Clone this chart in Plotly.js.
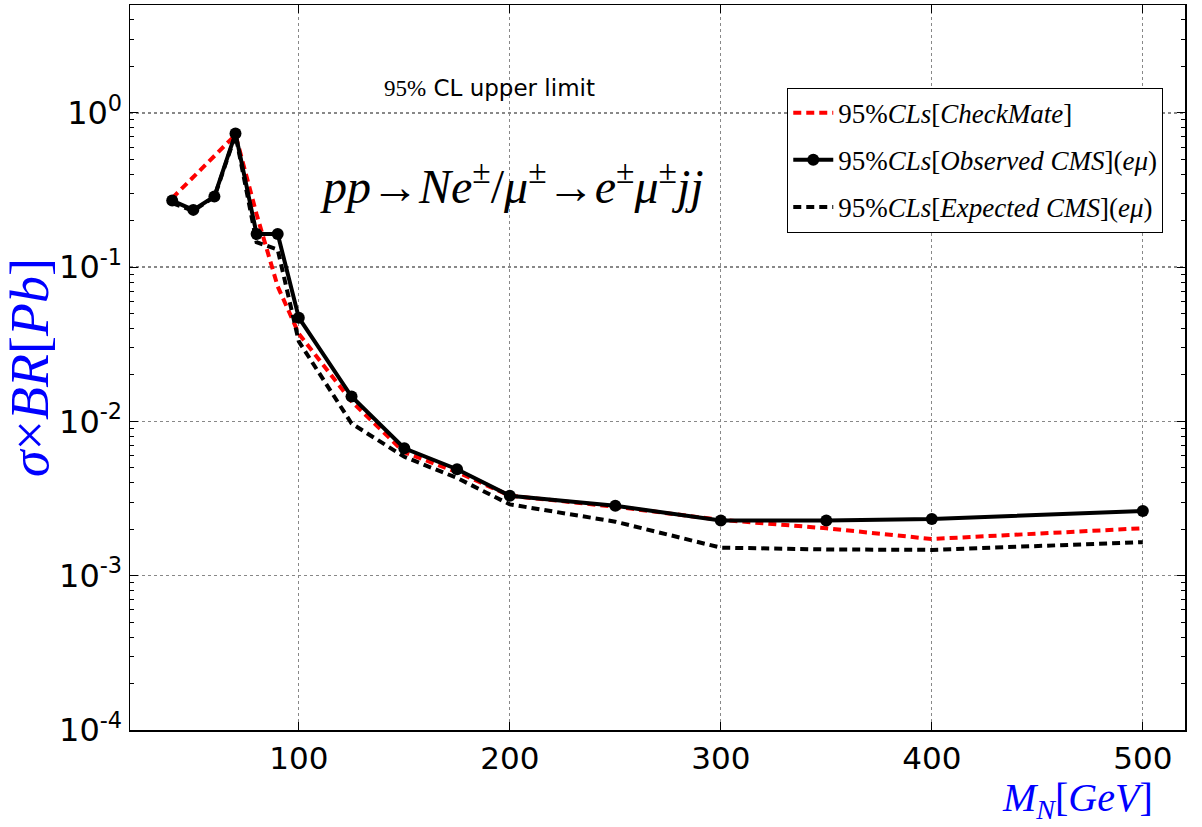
<!DOCTYPE html>
<html>
<head>
<meta charset="utf-8">
<script src="https://cdn.plot.ly/plotly-3.0.1.min.js"></script>
<style>html,body{margin:0;padding:0;background:#fff;}#chart{width:1202px;height:827px;}</style>
</head>
<body>
<div id="chart"></div>
<script>
// Mass points (GeV)
const massObs = [40, 50, 60, 70, 80, 90, 100, 125, 150, 175, 200, 250, 300, 350, 400, 500];
const observedCMS = [0.27, 0.235, 0.287, 0.735, 0.164, 0.164, 0.047, 0.0145, 0.0067, 0.0049, 0.0033, 0.00284, 0.00228, 0.00228, 0.00233, 0.00263];
const expectedCMS = [0.26, 0.232, 0.285, 0.72, 0.145, 0.13, 0.033, 0.0097, 0.0059, 0.0043, 0.0029, 0.00224, 0.00152, 0.00148, 0.00147, 0.00165];
const massCM = [40, 70, 80, 90, 100, 125, 150, 175, 200, 250, 300, 350, 400, 500];
const checkMate = [0.28, 0.72, 0.22, 0.075, 0.037, 0.0135, 0.0063, 0.0047, 0.0033, 0.0028, 0.0023, 0.00203, 0.00173, 0.00203];
const xTicks = [100, 200, 300, 400, 500];
const yTickVals = [1, 0.1, 0.01, 0.001, 0.0001];
const yTickText = ['10<sup>0</sup>', '10<sup>-1</sup>', '10<sup>-2</sup>', '10<sup>-3</sup>', '10<sup>-4</sup>'];

const serif = 'Liberation Serif, DejaVu Serif, serif';
const sans = 'DejaVu Sans, sans-serif';

const traces = [
  {x: massCM, y: checkMate, mode: 'lines', name: '95%<i>CLs</i>[<i>CheckMate</i>]', legendgroup: 'a',
   line: {color: '#ff0000', width: 4, dash: '8px,5px'}, legendrank: 1},
  {x: massObs, y: expectedCMS, mode: 'lines', name: '95%<i>CLs</i>[<i>Expected CMS</i>](<i>eμ</i>)', legendgroup: 'c',
   line: {color: '#000000', width: 4, dash: '8px,5px'}, legendrank: 3},
  {x: massObs, y: observedCMS, mode: 'lines+markers', name: '95%<i>CLs</i>[<i>Observed CMS</i>](<i>eμ</i>)', legendgroup: 'b',
   line: {color: '#000000', width: 4}, marker: {color: '#000000', size: 12}, legendrank: 2}
];

const yRange = [-4, 0.699];

const layout = {
  width: 1202, height: 827,
  margin: {l: 130, r: 17, t: 5, b: 97},
  paper_bgcolor: '#ffffff', plot_bgcolor: '#ffffff',
  showlegend: true,
  legend: {x: 0.623, y: 0.886, xanchor: 'left', yanchor: 'top',
    bordercolor: '#000000', borderwidth: 1, bgcolor: '#ffffff',
    font: {family: serif, size: 27, color: '#000'}, tracegroupgap: 9,
    itemwidth: 40},
  xaxis: {
    range: [20, 520], tickvals: xTicks, ticks: 'inside', ticklen: 8, tickwidth: 1,
    tickcolor: '#000', showline: true, linecolor: '#000', linewidth: 1.5, mirror: 'ticks',
    showgrid: true, gridcolor: '#888', griddash: 'dot', gridwidth: 1.3, zeroline: false,
    tickfont: {family: sans, size: 31, color: '#000'}
  },
  yaxis: {
    type: 'log', range: yRange, tickvals: yTickVals, ticktext: yTickText,
    ticks: 'inside', ticklen: 8, tickwidth: 1, tickcolor: '#000',
    showline: true, linecolor: '#000', linewidth: 1.5, mirror: 'ticks',
    showgrid: true, gridcolor: '#888', griddash: 'dot', gridwidth: 1.3, zeroline: false,
    tickfont: {family: sans, size: 32, color: '#000'},
    minor: {tickmode: 'linear', dtick: 'D1', ticks: 'inside', ticklen: 4, tickcolor: '#000', showgrid: false},
    title: {text: '<i>σ</i>×<i>BR</i>[<i>Pb</i>]', font: {family: serif, size: 54, color: '#0000ff'}, standoff: 8}
  },
  annotations: [
    {xref: 'paper', yref: 'paper', x: 0.341, y: 0.886, xanchor: 'center', yanchor: 'middle', showarrow: false,
     text: '<span style="font-family:Liberation Serif">95%</span> CL upper limit', font: {family: sans, size: 23, color: '#000'}},
    {xref: 'paper', yref: 'paper', x: 0.362, y: 0.754, xanchor: 'center', yanchor: 'middle', showarrow: false,
     text: '<i>pp</i>→<i>Ne</i><sup>±</sup>/<i>μ</i><sup>±</sup>→<i>e</i><sup>±</sup><i>μ</i><sup>±</sup><i>jj</i>',
     font: {family: serif, size: 48, color: '#000'}},
    {xref: 'paper', yref: 'paper', x: 0.898, y: -0.096, xanchor: 'center', yanchor: 'middle', showarrow: false,
     text: '<i>M</i><sub><i>N</i></sub>[<i>GeV</i>]', font: {family: serif, size: 40, color: '#0000ff'}}
  ]
};

Plotly.newPlot('chart', traces, layout, {displayModeBar: false, staticPlot: true});
</script>
</body>
</html>
